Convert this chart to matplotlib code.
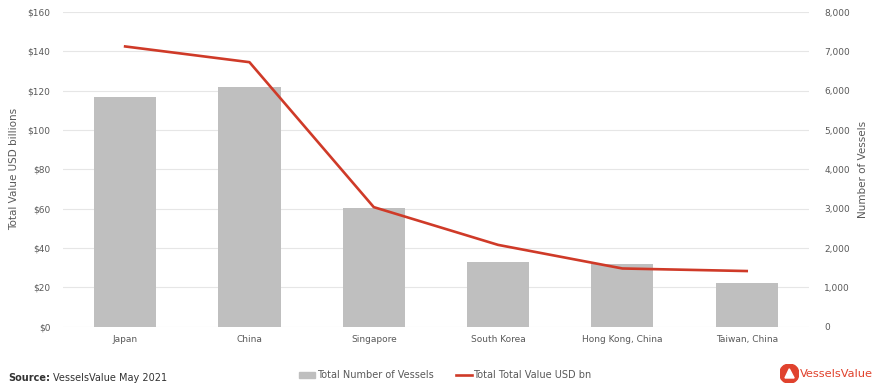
import matplotlib.pyplot as plt
import numpy as np
from matplotlib.patches import Circle, Polygon
from matplotlib.lines import Line2D
from matplotlib.patches import Patch

countries = ["Japan", "China", "Singapore", "South Korea", "Hong Kong, China", "Taiwan, China"]
vessels = [5850, 6100, 3020, 1640, 1600, 1120]
value_bn = [142.5, 134.5, 60.8, 41.6, 29.6, 28.3]

left_ticks = [0, 20, 40, 60, 80, 100, 120, 140, 160]
right_ticks = [0, 1000, 2000, 3000, 4000, 5000, 6000, 7000, 8000]

txt = "#595959"
fig = plt.figure(figsize=(8.77, 3.88), dpi=100)
ax = fig.add_axes([0.0718, 0.158, 0.8505, 0.811])
ax2 = ax.twinx()

x = np.arange(len(countries))
ax2.bar(x, vessels, width=0.5, color="#bfbfbf", zorder=2)
ax.plot(x, value_bn, color="#cf3a28", lw=1.9, zorder=3)

# line on top of the bars
ax.set_zorder(ax2.get_zorder() + 1)
ax.patch.set_visible(False)

ax.set_xlim(-0.5, len(countries) - 0.5)
ax.set_ylim(0, 160)
ax2.set_ylim(0, 8000)
ax.set_yticks(left_ticks)
ax.set_yticklabels(["$%d" % v for v in left_ticks])
ax2.set_yticks(right_ticks)
ax2.set_yticklabels(["{:,}".format(v) for v in right_ticks])
ax.set_xticks(x)
ax.set_xticklabels(countries)

# gridlines live on the bar axis so they stay behind the bars
ax.grid(False)
ax2.grid(axis="y", color="#e6e6e6", lw=0.8, zorder=0)
ax2.set_axisbelow(True)
for a in (ax, ax2):
    for s in a.spines.values():
        s.set_visible(False)
    a.tick_params(length=0, labelsize=6.5, colors=txt)
ax.tick_params(axis="y", pad=9)
ax2.tick_params(axis="y", pad=11)
ax.tick_params(axis="x", pad=6)

ax.set_ylabel("Total Value USD billions", fontsize=7.5, color=txt, labelpad=6)
ax2.set_ylabel("Number of Vessels", fontsize=7.5, color=txt, labelpad=6)

handles = [Patch(color="#bfbfbf"), Line2D([], [], color="#cf3a28", lw=1.9)]
fig.legend(handles, ["Total Number of Vessels", "Total Total Value USD bn"],
           loc="center", bbox_to_anchor=(0.508, 0.033), ncol=2, frameon=False,
           fontsize=7, labelcolor=txt, handlelength=1.6, handleheight=0.5,
           handletextpad=0.2, columnspacing=2.3)

fig.text(0.009, 0.025, "Source:", fontsize=7, fontweight="bold", color="#333333", va="center")
fig.text(0.061, 0.025, "VesselsValue May 2021", fontsize=7, color="#333333", va="center")

# logo
logo = fig.add_axes([0.889, 0.012, 0.022, 0.05])
logo.set_xlim(-1, 1)
logo.set_ylim(-1, 1)
logo.set_aspect("equal")
logo.axis("off")
logo.add_patch(Circle((0, 0), 1, color="#e0422d"))
logo.add_patch(Polygon([(-0.45, -0.45), (0.5, -0.45), (0.0, 0.5)], color="white"))
fig.text(0.912, 0.035, "VesselsValue", fontsize=8.2, color="#e0422d", va="center")

fig.savefig("out.png", dpi=100)
